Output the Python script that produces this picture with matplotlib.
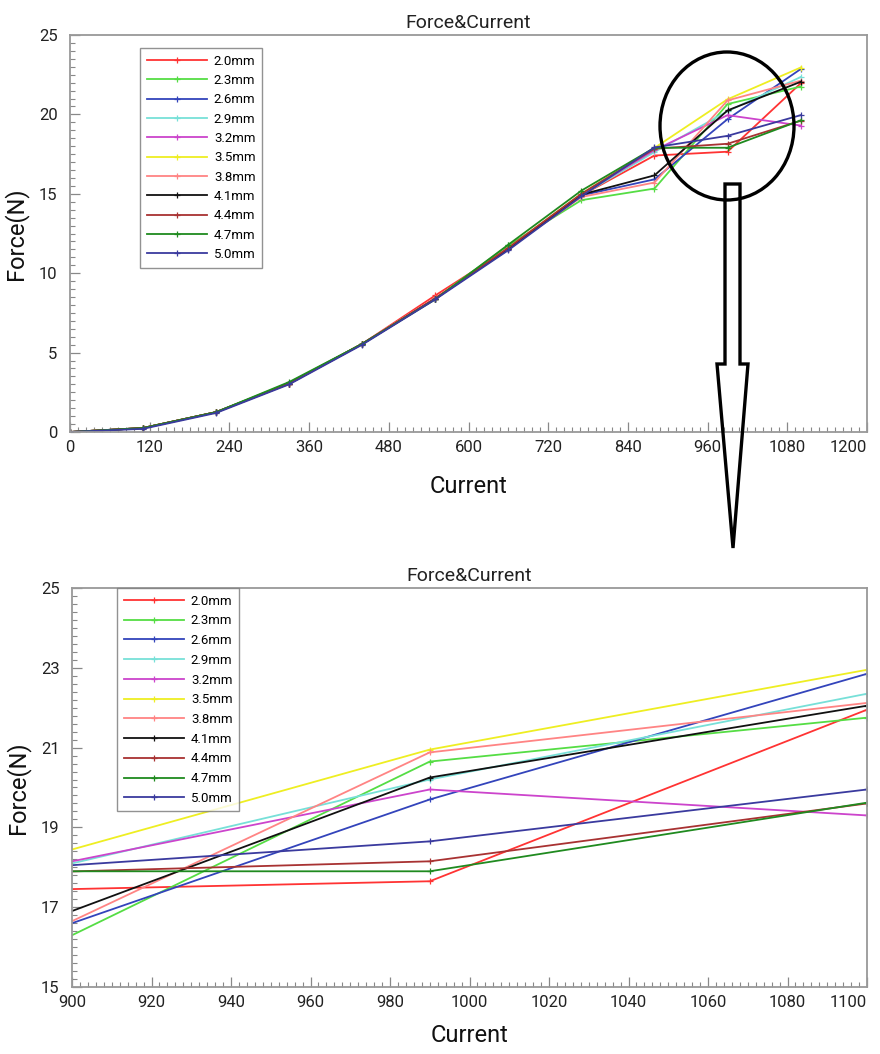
import matplotlib
matplotlib.use("Agg")
import matplotlib.pyplot as plt
from matplotlib import font_manager
from matplotlib.patches import Ellipse, Polygon
from matplotlib.ticker import MultipleLocator

# ---- data -------------------------------------------------------------
current = [0, 110, 220, 330, 440, 550, 660, 770, 880, 990, 1100]

labels = ["2.0mm", "2.3mm", "2.6mm", "2.9mm", "3.2mm", "3.5mm",
          "3.8mm", "4.1mm", "4.4mm", "4.7mm", "5.0mm"]

f_20 = [0, 0.25, 1.25, 3.05, 5.55, 8.60, 11.55, 14.90, 17.41, 17.65, 21.95]
f_23 = [0, 0.25, 1.25, 3.10, 5.55, 8.40, 11.75, 14.60, 15.33, 20.65, 21.75]
f_26 = [0, 0.25, 1.25, 3.05, 5.55, 8.40, 11.55, 14.90, 15.91, 19.70, 22.85]
f_29 = [0, 0.25, 1.25, 3.05, 5.55, 8.40, 11.55, 14.90, 17.63, 20.20, 22.35]
f_32 = [0, 0.25, 1.25, 3.05, 5.55, 8.40, 11.60, 14.95, 17.75, 19.95, 19.30]
f_35 = [0, 0.25, 1.25, 3.05, 5.55, 8.40, 11.60, 15.00, 17.89, 20.95, 22.95]
f_38 = [0, 0.25, 1.25, 3.05, 5.55, 8.45, 11.55, 14.80, 15.71, 20.88, 22.12]
f_41 = [0, 0.25, 1.25, 3.05, 5.55, 8.40, 11.50, 14.95, 16.16, 20.25, 22.05]
f_44 = [0, 0.25, 1.25, 3.05, 5.55, 8.40, 11.60, 15.00, 17.84, 18.15, 19.60]
f_47 = [0, 0.25, 1.25, 3.15, 5.55, 8.35, 11.80, 15.20, 17.90, 17.90, 19.62]
f_50 = [0, 0.20, 1.20, 3.00, 5.50, 8.35, 11.45, 14.85, 17.92, 18.65, 19.95]

forces = [f_20, f_23, f_26, f_29, f_32, f_35, f_38, f_41, f_44, f_47, f_50]

colors = ["#ff3333", "#55dd44", "#3344bb", "#77e0d8", "#cc44cc", "#eeee22",
          "#ff8484", "#111111", "#a83232", "#1f8a1f", "#3a3a9e"]

top_xticks = [0, 120, 240, 360, 480, 600, 720, 840, 960, 1080, 1200]
top_yticks = [0, 5, 10, 15, 20, 25]
bot_xticks = [900, 920, 940, 960, 980, 1000, 1020, 1040, 1060, 1080, 1100]
bot_yticks = [15, 17, 19, 21, 23, 25]

# ---- fonts ------------------------------------------------------------
installed = {f.name for f in font_manager.fontManager.ttflist}
FONT = ["Roboto", "DejaVu Sans"] if "Roboto" in installed else ["DejaVu Sans"]
plt.rcParams["font.family"] = FONT

W, H = 880, 1054
fig = plt.figure(figsize=(W / 100, H / 100), dpi=100)


def fig_xy(px, py):
    return px / W, 1 - py / H


def make_axes(left, top, right, bottom):
    x0, y1 = fig_xy(left, top)
    x1, y0 = fig_xy(right, bottom)
    return fig.add_axes([x0, y0, x1 - x0, y1 - y0])


def style_axes(ax, xticks, yticks, xminor, yminor, xlabelpad):
    for side in ("top", "right", "left", "bottom"):
        ax.spines[side].set_color("#999999")
        ax.spines[side].set_linewidth(1.3)
    ax.set_xticks(xticks)
    ax.set_yticks(yticks)
    ax.set_xticklabels([str(v) for v in xticks])
    ax.set_yticklabels([str(v) for v in yticks])
    ax.xaxis.set_minor_locator(MultipleLocator(xminor))
    ax.yaxis.set_minor_locator(MultipleLocator(yminor))
    ax.tick_params(which="both", direction="in", color="#888888",
                   top=False, right=False, labelsize=12, labelcolor="#222222")
    ax.tick_params(which="major", length=7, width=0.9)
    ax.tick_params(which="minor", length=3.5, width=0.8)
    ax.tick_params(axis="x", which="major", pad=6)
    ax.tick_params(axis="y", which="major", pad=9)
    # keep the last x label inside the figure edge
    ax.get_xticklabels()[-1].set_horizontalalignment("right")
    ax.set_title("Force&Current", fontsize=14, pad=5, color="#222222")
    ax.set_xlabel("Current", fontsize=17, labelpad=xlabelpad, color="#111111")
    ax.set_ylabel("Force(N)", fontsize=17, labelpad=8, color="#111111")


def draw_series(ax):
    for lab, f, c in zip(labels, forces, colors):
        ax.plot(current, f, color=c, lw=1.3, marker="+", ms=5, mew=0.9,
                label=lab)


# ---- overview chart ---------------------------------------------------
ax1 = make_axes(70, 35, 867, 432)
draw_series(ax1)
ax1.set_xlim(0, 1200)
ax1.set_ylim(0, 25)
style_axes(ax1, top_xticks, top_yticks, 12, 0.5, 14)
ax1.legend(loc="upper left", bbox_to_anchor=fig_xy(140, 48),
           bbox_transform=fig.transFigure, fontsize=9.5, frameon=True,
           fancybox=False, edgecolor="#777777", handlelength=4.6,
           handletextpad=0.5, labelspacing=0.48, borderpad=0.5,
           borderaxespad=0)

# ---- zoomed chart -----------------------------------------------------
ax2 = make_axes(72, 588, 867, 987)
draw_series(ax2)
ax2.set_xlim(900, 1100)
ax2.set_ylim(15, 25)
style_axes(ax2, bot_xticks, bot_yticks, 2, 0.2, 10)
ax2.legend(loc="upper left", bbox_to_anchor=fig_xy(117, 588),
           bbox_transform=fig.transFigure, fontsize=9.5, frameon=True,
           fancybox=False, edgecolor="#777777", handlelength=4.6,
           handletextpad=0.5, labelspacing=0.51, borderpad=0.5,
           borderaxespad=0)

# ---- highlight circle and arrow --------------------------------------
cx, cy = fig_xy(727, 126)
fig.patches.append(Ellipse((cx, cy), 134 / W, 148 / H, fill=False,
                           ec="black", lw=2.4, transform=fig.transFigure,
                           zorder=10))
arrow_px = [(725, 184), (740, 184), (740, 364), (748, 364), (733, 548),
            (717, 364), (725, 364)]
fig.patches.append(Polygon([fig_xy(x, y) for x, y in arrow_px], closed=True,
                           fill=False, ec="black", lw=2.4, joinstyle="miter",
                           transform=fig.transFigure, zorder=10))

fig.savefig("out.png", dpi=100)
